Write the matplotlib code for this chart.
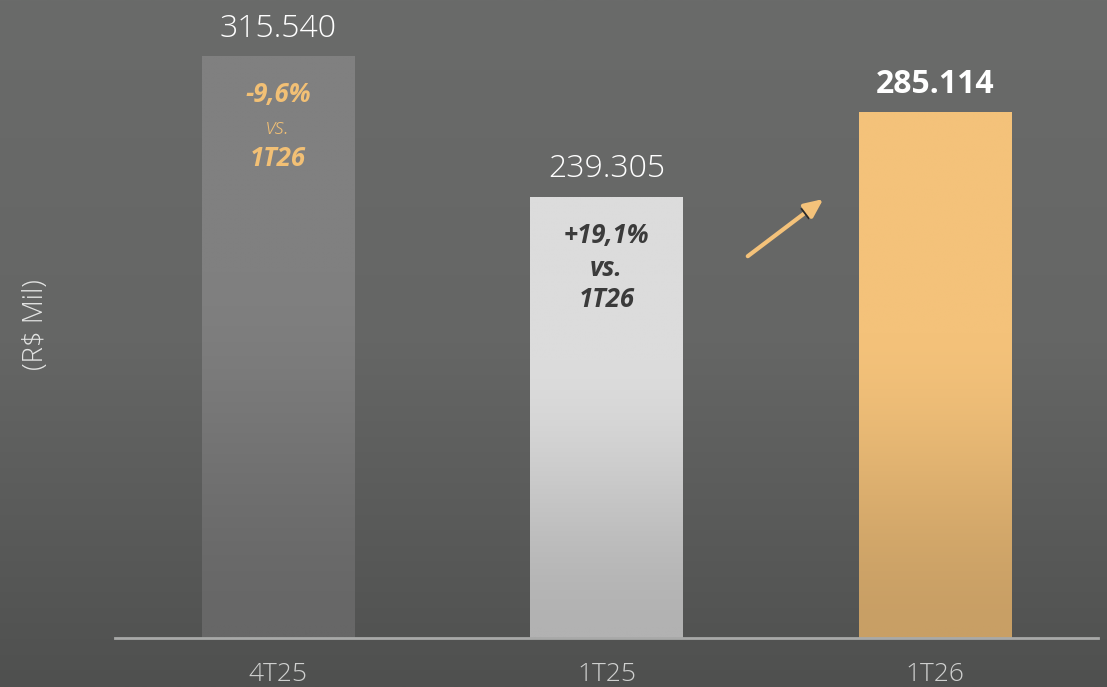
import numpy as np
import matplotlib
matplotlib.use("Agg")
import matplotlib.pyplot as plt
from matplotlib.colors import LinearSegmentedColormap
import matplotlib.patheffects as pe

# data
categories = ["4T25", "1T25", "1T26"]
values = [315540, 239305, 285114]
value_labels = ["315.540", "239.305", "285.114"]
pct_labels = ["-9,6%", "+19,1%", None]
vs_labels = ["vs.", "vs.", None]
ref_labels = ["1T26", "1T26", None]

FONT = "Open Sans"

# top/bottom colour for each bar gradient
bar_colors = [("#808080", "#676767"), ("#dcdcdc", "#b2b2b2"), ("#f4c27a", "#c89f65")]
inner_colors = ["#f2c075", "#3b3b3b", None]


def gradient_fill(ax, x, width, height, top, bottom, start=0.55):
    """Draw a bar with a smooth vertical gradient (flat colour in the upper part)."""
    bar = ax.bar(x, height, width=width, color="none", edgecolor="none", zorder=2)[0]
    frac = np.linspace(0, 1, 512)  # 0 bottom, 1 top
    t = np.clip(frac / start, 0, 1)
    t = t * t * (3 - 2 * t)
    cmap = LinearSegmentedColormap.from_list("g", [bottom, top])
    img = ax.imshow(t.reshape(-1, 1), cmap=cmap, vmin=0, vmax=1, aspect="auto", origin="lower",
                    extent=(x - width / 2, x + width / 2, 0, height), zorder=2,
                    interpolation="bilinear")
    img.set_clip_path(bar)
    return bar


fig = plt.figure(figsize=(11.07, 6.87), dpi=100)

# background gradient
bg = fig.add_axes([0, 0, 1, 1])
bg_cmap = LinearSegmentedColormap.from_list("bg", ["#4f504f", "#656665", "#6a6b6a"])
bg.imshow(np.linspace(0, 1, 256).reshape(-1, 1), cmap=bg_cmap, aspect="auto", origin="lower",
          extent=(0, 1, 0, 1), interpolation="bilinear")
bg.set_axis_off()

ax = fig.add_axes([115 / 1107, 49 / 687, 983 / 1107, 638 / 687])
ax.patch.set_alpha(0)
ax.set_xlim(-0.496, 2.496)
ax.set_ylim(0, 345900)

x = np.arange(len(categories))
width = 0.463
for i in range(len(categories)):
    gradient_fill(ax, x[i], width, values[i], bar_colors[i][0], bar_colors[i][1],
                  start=0.6 if i == 2 else 0.65)

for s in ["top", "right", "left"]:
    ax.spines[s].set_visible(False)
ax.spines["bottom"].set_color("#a8a9a8")
ax.spines["bottom"].set_linewidth(2)
ax.spines["bottom"].set_zorder(3)
ax.set_yticks([])
ax.set_xticks(x)
ax.set_xticklabels(categories, fontsize=19, color="#cfd0cf", family=FONT, fontweight="light")
ax.tick_params(axis="x", length=0, pad=17)

# value labels
for i in range(len(categories)):
    bold = i == 2
    ax.annotate(value_labels[i], (x[i], values[i]), xytext=(0, 8),
                textcoords="offset points", ha="center", va="bottom",
                fontsize=23, color="white", family=FONT,
                fontweight="bold" if bold else "light")

# variation labels inside bars
offsets = [(-28, -52, -74), (-28, -52, -74)]
for i in range(2):
    c = inner_colors[i]
    o = offsets[i]
    ax.annotate(pct_labels[i], (x[i], values[i]), xytext=(0, o[0]), textcoords="offset points",
                ha="center", va="center", fontsize=18.5, color=c, family=FONT,
                fontweight="bold", style="italic")
    ax.annotate(vs_labels[i], (x[i], values[i]), xytext=(0, o[1]), textcoords="offset points",
                ha="center", va="center", fontsize=16 if i == 0 else 18.5, color=c, family=FONT,
                fontweight="light" if i == 0 else "bold", style="italic")
    ax.annotate(ref_labels[i], (x[i], values[i]), xytext=(0, o[2]), textcoords="offset points",
                ha="center", va="center", fontsize=18.5, color=c, family=FONT,
                fontweight="bold", style="italic")

# growth arrow between 1T25 and 1T26
ax.annotate("", xy=(1.66, 238000), xytext=(1.43, 207000),
            arrowprops=dict(arrowstyle="-|>,head_length=1.1,head_width=0.5", color="#f4c27a", lw=3,
                            shrinkA=0, shrinkB=0,
                            path_effects=[pe.SimplePatchShadow(offset=(-2, -2),
                                                               shadow_rgbFace="#2a2a2a", alpha=1.0),
                                          pe.Normal()]),
            zorder=4)

fig.text(36 / 1107, 1 - 325 / 687, "(R$ Mil)", rotation=90, ha="center", va="center",
         fontsize=20, color="#e2e3e2", family=FONT, fontweight="light")

fig.savefig("out.png", dpi=100)
